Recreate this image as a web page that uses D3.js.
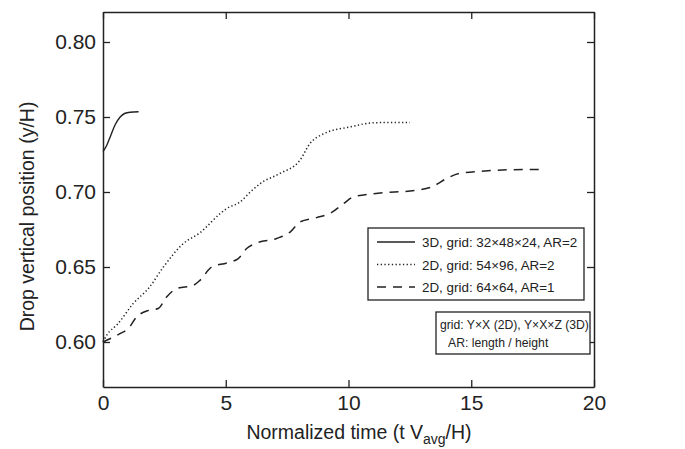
<!DOCTYPE html>
<html>
<head>
<meta charset="utf-8">
<script src="https://cdn.jsdelivr.net/npm/d3@7"></script>
<style>
  body { margin: 0; background: #fff; }
  text { font-family: "Liberation Sans", Arial, sans-serif; fill: #222; }
</style>
</head>
<body>
<div id="plot"></div>
<script>
// curves: [time, y/H]
const solid3D = [[0,0.727],[0.15,0.731],[0.3,0.737],[0.5,0.745],[0.7,0.750],[0.9,0.7525],[1.1,0.7532],[1.45,0.7535]];
const dotted2D = [[0,0.600],[0.15,0.6045],[0.6,0.612],[1.23,0.6256],[1.9,0.6367],[2.46,0.650],[3.27,0.6656],[3.95,0.6728],
  [4.77,0.6856],[5.04,0.689],[5.58,0.6933],[6.0,0.700],[6.4,0.7056],[7.2,0.7123],[8.02,0.7211],[8.43,0.7323],
  [9.0,0.7389],[10.1,0.7435],[10.9,0.746],[11.4,0.7463],[12.5,0.7463]];
const dashed2D = [[0,0.600],[0.69,0.6056],[1.03,0.609],[1.37,0.6167],[1.85,0.6211],[2.25,0.6223],[2.59,0.630],[3.0,0.6356],
  [3.68,0.6378],[3.95,0.6411],[4.43,0.650],[5.04,0.6527],[5.51,0.6556],[5.85,0.6623],[6.26,0.666],[7.07,0.669],
  [7.62,0.6733],[8.02,0.680],[8.7,0.6829],[9.3,0.6862],[9.8,0.6923],[10.2,0.6967],[11.2,0.6992],[12.7,0.7011],
  [13.4,0.7035],[14.0,0.709],[14.5,0.7123],[15.4,0.7138],[16.5,0.7148],[18.0,0.715]];

const seriesNames = ['3D, grid: 32\u00d748\u00d724, AR=2', '2D, grid: 54\u00d796, AR=2', '2D, grid: 64\u00d764, AR=1'];
const noteLines = ['grid: Y\u00d7X (2D), Y\u00d7X\u00d7Z (3D)', 'AR: length / height'];
const xTicks = [0, 5, 10, 15, 20];
const yTicks = [0.60, 0.65, 0.70, 0.75, 0.80];

window.addEventListener('load', main);

function main(){
  let [ figWidth, figHeight ] = [685, 449];
  let margin = {left: 103, top: 12, right: 91, bottom: 62};
  let w = figWidth - margin.left - margin.right;
  let h = figHeight - margin.top - margin.bottom;
  let ink = '#222';

  let svg = d3.select('#plot').append('svg')
              .attr('width', figWidth)
              .attr('height', figHeight);

  let g = svg.append('g').attr('transform', `translate(${margin.left},${margin.top})`);

  let scX = d3.scaleLinear().domain([0, 20]).range([0, w]);
  let scY = d3.scaleLinear().domain([0.57, 0.82]).range([h, 0]);

  // axes on all four sides, ticks pointing inward
  let styleAxis = sel => {
    sel.select('.domain').attr('stroke', ink).attr('stroke-width', 1.5);
    sel.selectAll('.tick line').attr('stroke', ink).attr('stroke-width', 1.3);
    sel.selectAll('text').style('font-size', '21px').attr('fill', ink);
  };

  g.append('g').attr('transform', `translate(0,${h})`)
    .call(d3.axisBottom(scX).tickValues(xTicks).tickFormat(d3.format('d'))
          .tickSizeInner(-7).tickSizeOuter(0).tickPadding(8))
    .call(styleAxis);
  g.append('g')
    .call(d3.axisTop(scX).tickValues(xTicks).tickFormat('')
          .tickSizeInner(-7).tickSizeOuter(0))
    .call(styleAxis);
  g.append('g')
    .call(d3.axisLeft(scY).tickValues(yTicks).tickFormat(d3.format('.2f'))
          .tickSizeInner(-7).tickSizeOuter(0).tickPadding(7))
    .call(styleAxis);
  g.append('g').attr('transform', `translate(${w},0)`)
    .call(d3.axisRight(scY).tickValues(yTicks).tickFormat('')
          .tickSizeInner(-7).tickSizeOuter(0))
    .call(styleAxis);

  // curves
  let line = d3.line()
               .x(d => scX(d[0]))
               .y(d => scY(d[1]))
               .curve(d3.curveMonotoneX);

  let styles = [
    {data: solid3D, dash: null, width: 1.4},
    {data: dotted2D, dash: '1.3,2.4', width: 1.5},
    {data: dashed2D, dash: '9,7', width: 1.5}
  ];

  styles.forEach(s => {
    g.append('path')
      .attr('d', line(s.data))
      .attr('fill', 'none')
      .attr('stroke', ink)
      .attr('stroke-width', s.width)
      .attr('stroke-dasharray', s.dash);
  });

  // legend box
  let leg = svg.append('g').attr('transform', 'translate(368,228)');
  leg.append('rect').attr('width', 216).attr('height', 72)
     .attr('fill', '#fff').attr('stroke', ink).attr('stroke-width', 1.3);
  seriesNames.forEach((name, i) => {
    let y = 14 + i * 22.5;
    leg.append('line').attr('x1', 9).attr('x2', 47).attr('y1', y).attr('y2', y)
       .attr('stroke', ink).attr('stroke-width', styles[i].width)
       .attr('stroke-dasharray', styles[i].dash);
    leg.append('text').attr('x', 54).attr('y', y + 5)
       .style('font-size', '13.4px').text(name);
  });

  // note box
  let note = svg.append('g').attr('transform', 'translate(436,312)');
  note.append('rect').attr('width', 154).attr('height', 42)
      .attr('fill', '#fff').attr('stroke', ink).attr('stroke-width', 1.3);
  noteLines.forEach((t, i) => {
    note.append('text').attr('x', i === 0 ? 4 : 12).attr('y', 17 + i * 18)
        .style('font-size', '12.2px').text(t);
  });

  // axis titles
  svg.append('text')
     .attr('transform', `translate(34,${margin.top + h / 2 + 17}) rotate(-90)`)
     .attr('text-anchor', 'middle')
     .style('font-size', '19.5px')
     .text('Drop vertical position (y/H)');

  let xt = svg.append('text')
     .attr('x', 359).attr('y', 439)
     .attr('text-anchor', 'middle')
     .style('font-size', '19.5px');
  xt.append('tspan').text('Normalized time (t V');
  xt.append('tspan').attr('dy', 5).style('font-size', '14px').text('avg');
  xt.append('tspan').attr('dy', -5).text('/H)');
}
</script>
</body>
</html>
